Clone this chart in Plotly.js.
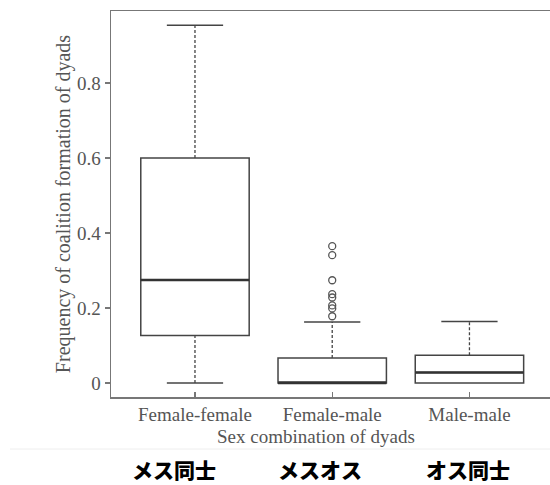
<!DOCTYPE html>
<html>
<head>
<meta charset="utf-8">
<script src="https://cdn.plot.ly/plotly-3.0.1.min.js"></script>
<style>html,body{margin:0;padding:0;background:#fff;}#chart{width:550px;height:485px;}</style>
</head>
<body>
<div id="chart"></div>
<script>
// ---- data ----
const categories = ['Female-female', 'Female-male', 'Male-male'];
const jpLabels = ['メス同士', 'メスオス', 'オス同士'];
const q1 = [0.127, 0.0, 0.0];
const medians = [0.275, 0.0, 0.028];
const q3 = [0.600, 0.067, 0.074];
const lowerWhisker = [0.0, 0.0, 0.0];
const upperWhisker = [0.954, 0.163, 0.164];
const outliersFM = [0.365, 0.341, 0.274, 0.237, 0.228, 0.207, 0.199, 0.178];
const yTicks = [0, 0.2, 0.4, 0.6, 0.8];
const yTickText = ['0', '0.2', '0.4', '0.6', '0.8'];

// ---- style ----
const boxW = 0.79, capW = 0.41;
const lineCol = '#444', axisCol = '#777', textCol = '#555';
const serif = 'Liberation Serif, Times New Roman, serif';

const xs = categories.map((c, i) => i);
const traces = [];

// boxes
traces.push({
  type: 'box', x: xs, q1: q1, median: medians, q3: q3,
  lowerfence: q1, upperfence: q3,
  width: boxW, whiskerwidth: 0, boxpoints: false,
  fillcolor: 'rgba(0,0,0,0)', line: {color: lineCol, width: 1.5},
  hoverinfo: 'skip', showlegend: false
});

// thick medians
xs.forEach((x, i) => {
  traces.push({type: 'scatter', mode: 'lines', x: [x - boxW / 2, x + boxW / 2], y: [medians[i], medians[i]],
    line: {color: '#333', width: 2.5}, showlegend: false, hoverinfo: 'skip'});
});

// whiskers (dashed) and caps
xs.forEach((x, i) => {
  if (upperWhisker[i] > q3[i]) {
    traces.push({type: 'scatter', mode: 'lines', x: [x, x], y: [q3[i], upperWhisker[i]],
      line: {color: lineCol, width: 1.3, dash: '3px,2px'}, showlegend: false, hoverinfo: 'skip'});
    traces.push({type: 'scatter', mode: 'lines', x: [x - capW / 2, x + capW / 2], y: [upperWhisker[i], upperWhisker[i]],
      line: {color: lineCol, width: 1.5}, showlegend: false, hoverinfo: 'skip'});
  }
  if (lowerWhisker[i] < q1[i]) {
    traces.push({type: 'scatter', mode: 'lines', x: [x, x], y: [lowerWhisker[i], q1[i]],
      line: {color: lineCol, width: 1.3, dash: '3px,2px'}, showlegend: false, hoverinfo: 'skip'});
    traces.push({type: 'scatter', mode: 'lines', x: [x - capW / 2, x + capW / 2], y: [lowerWhisker[i], lowerWhisker[i]],
      line: {color: lineCol, width: 1.5}, showlegend: false, hoverinfo: 'skip'});
  }
});

// outliers
traces.push({type: 'scatter', mode: 'markers', x: outliersFM.map(() => 1), y: outliersFM,
  marker: {symbol: 'circle-open', size: 7, color: '#555', line: {width: 1.3, color: '#555'}},
  showlegend: false, hoverinfo: 'skip'});

const annotations = [
  {text: 'Frequency of coalition formation of dyads', xref: 'paper', yref: 'paper', x: -0.109, y: 0.5,
   textangle: -90, showarrow: false, xanchor: 'center', yanchor: 'middle', font: {family: serif, size: 20, color: textCol}},
  {text: 'Sex combination of dyads', xref: 'paper', yref: 'paper', x: (316 - 111) / 439, y: (397 - 437) / 386,
   showarrow: false, xanchor: 'center', yanchor: 'middle', font: {family: serif, size: 19, color: textCol}}
];
const jpX = [174, 320, 468];
jpLabels.forEach((t, i) => {
  annotations.push({text: t, xref: 'paper', yref: 'paper', x: (jpX[i] - 111) / 439, y: (397 - 469) / 386,
    showarrow: false, xanchor: 'center', yanchor: 'middle', font: {family: 'Noto Sans CJK JP', size: 21, weight: 900, color: '#000'}});
});

const layout = {
  width: 550, height: 485,
  margin: {l: 111, r: 0, t: 11, b: 88},
  paper_bgcolor: '#fff', plot_bgcolor: '#fff',
  showlegend: false,
  xaxis: {
    range: [-0.612, 2.587], tickvals: xs, ticktext: categories,
    showline: true, mirror: true, linecolor: axisCol, linewidth: 1.5,
    ticks: 'inside', ticklen: 5, tickcolor: axisCol, tickwidth: 1.2,
    showgrid: false, zeroline: false,
    tickfont: {family: serif, size: 19, color: textCol}
  },
  yaxis: {
    range: [-0.0373, 0.992], tickvals: yTicks, ticktext: yTickText,
    showline: true, linecolor: axisCol, linewidth: 1.5,
    ticks: 'outside', ticklen: 5, tickcolor: axisCol, tickwidth: 1.2,
    showgrid: false, zeroline: false,
    tickfont: {family: serif, size: 19, color: textCol}
  },
  shapes: [
    {type: 'line', xref: 'paper', yref: 'paper', x0: (10 - 111) / 439, x1: 1, y0: (397 - 449) / 386, y1: (397 - 449) / 386,
     line: {color: '#eeeeee', width: 1}}
  ],
  annotations: annotations
};

Plotly.newPlot('chart', traces, layout, {displayModeBar: false, staticPlot: true});
</script>
</body>
</html>
